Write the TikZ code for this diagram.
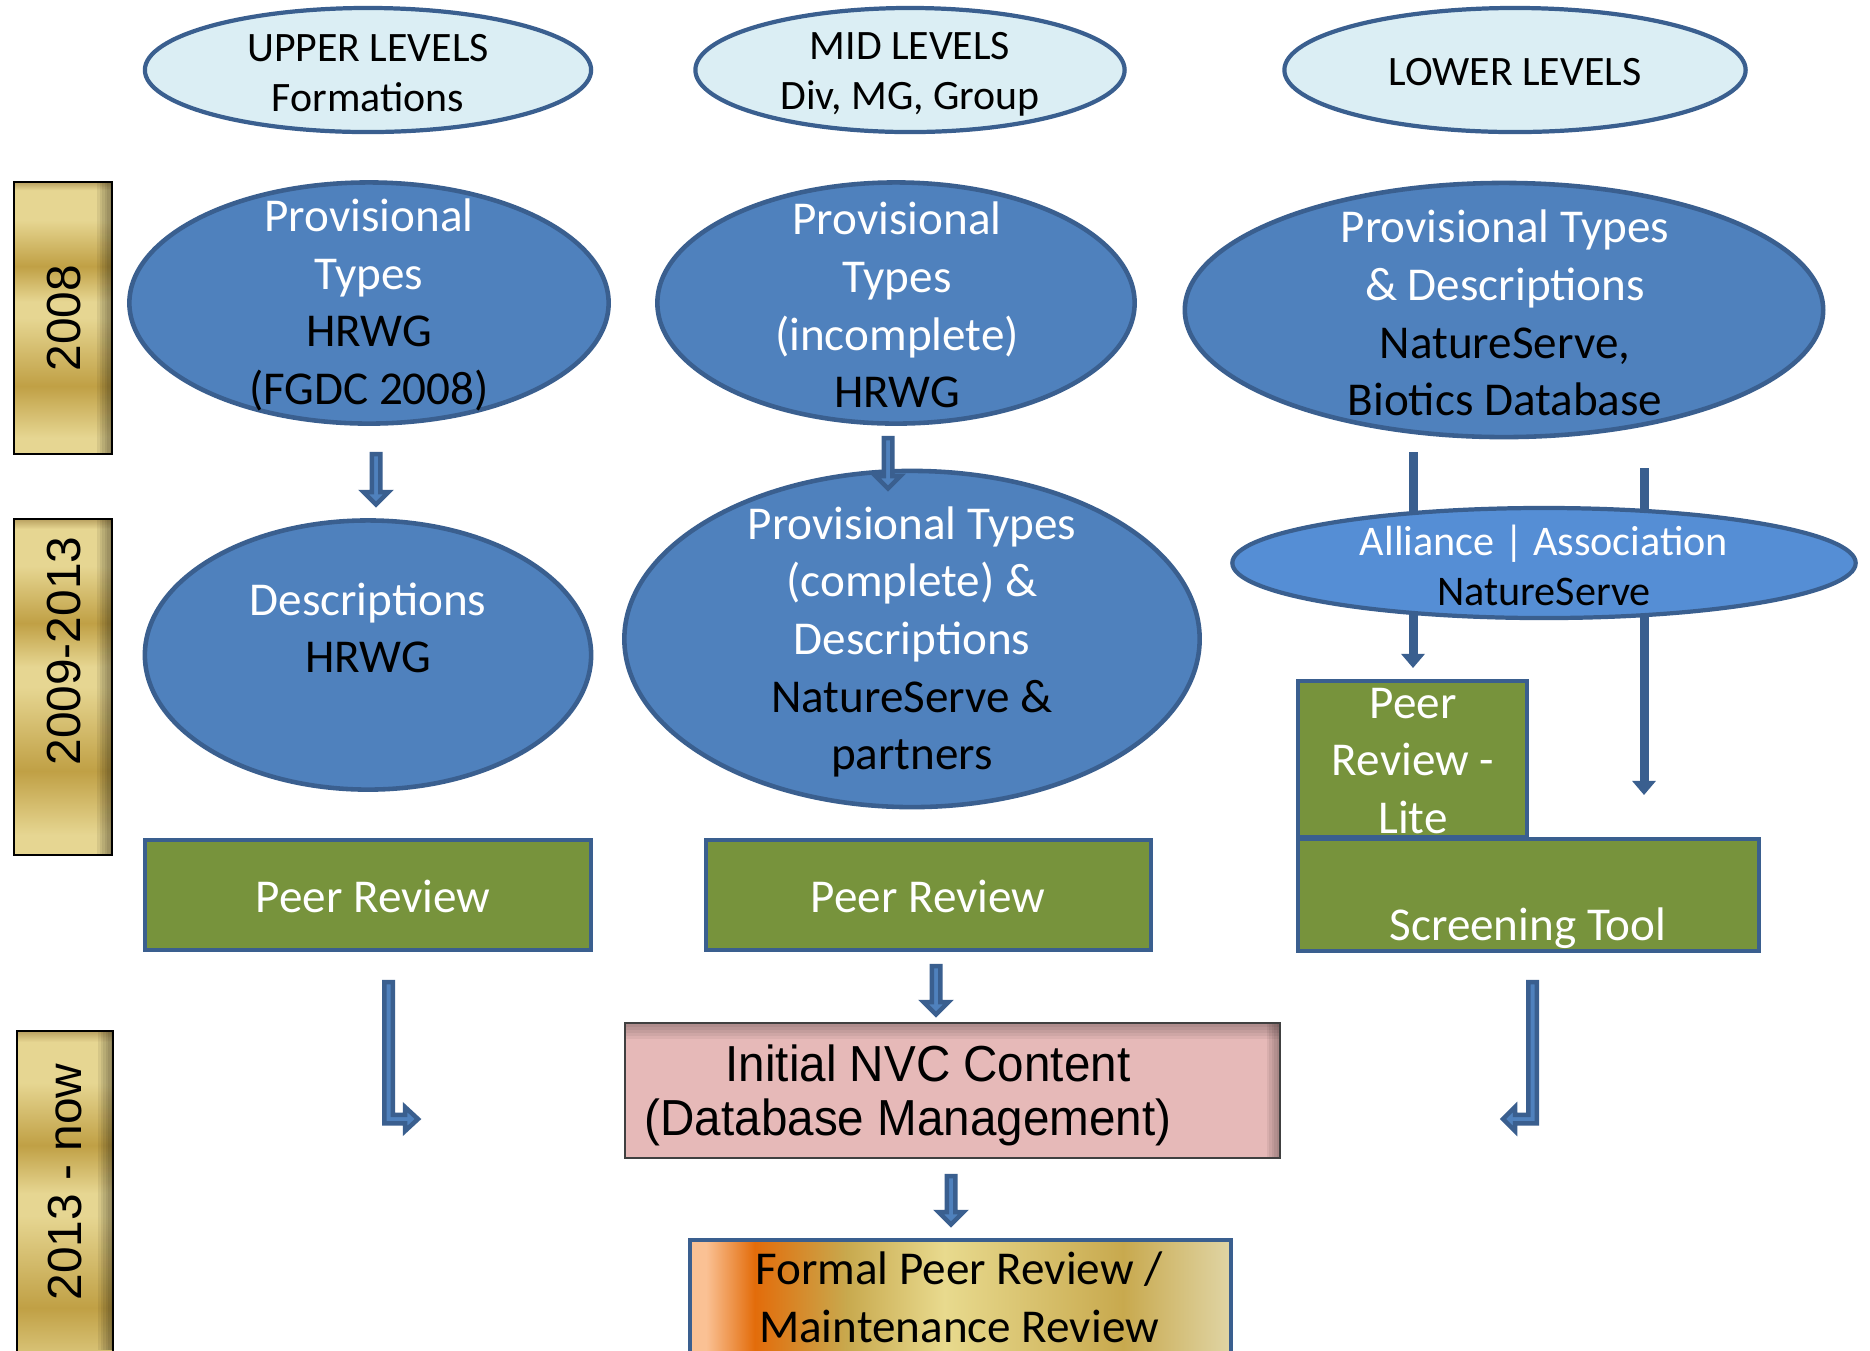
\documentclass[tikz,border=0pt]{standalone}
\usepackage{fontspec}
\setmainfont{Carlito}
\newfontfamily\arialf{Liberation Sans}
\newfontfamily\narrowf[FakeStretch=0.94]{Liberation Sans}
\usetikzlibrary{shapes.geometric,arrows.meta}

\definecolor{hdrfill}{HTML}{DBEEF4}
\definecolor{edge}{HTML}{3A5F8F}
\definecolor{bluefill}{HTML}{4F81BD}
\definecolor{ltblue}{HTML}{558ED5}
\definecolor{grn}{HTML}{77933C}
\definecolor{pinkf}{HTML}{E6B9B8}
\definecolor{gLight}{HTML}{E6D692}
\definecolor{gDark}{HTML}{C0A045}
\definecolor{gEdge}{HTML}{B8A060}
\definecolor{fA}{HTML}{FAC194}
\definecolor{fOr}{HTML}{E36C0A}
\definecolor{fGold}{HTML}{C8A94E}
\definecolor{fLt}{HTML}{E8DA8E}
\definecolor{fRt}{HTML}{E0D5A5}

\pgfdeclareverticalshading{goldbar}{100bp}{%
 color(0bp)=(gLight); color(25bp)=(gLight); color(28bp)=(gLight);
 color(37.5bp)=(gDark); color(50bp)=(gLight); color(53bp)=(gLight);
 color(59.5bp)=(gDark); color(68bp)=(gLight); color(73.5bp)=(gLight);
 color(75bp)=(gEdge); color(100bp)=(gEdge)}
\pgfdeclarehorizontalshading{formalsh}{100bp}{%
 color(0bp)=(fA); color(25bp)=(fA); color(26.5bp)=(fA);
 color(31bp)=(fOr); color(39.5bp)=(fGold); color(48.5bp)=(fLt);
 color(65bp)=(fGold); color(75bp)=(fRt); color(100bp)=(fRt)}

\newcommand\blkdown[3]{%
 \draw[blk] (#1-4.25,#2+2) -- (#1+4.25,#2+2) -- (#1+4.25,#3-15) -- (#1+12.5,#3-15)
  -- (#1,#3-2.5) -- (#1-12.5,#3-15) -- (#1-4.25,#3-15) -- cycle;}

\begin{document}
\begin{tikzpicture}[x=0.01cm,y=-0.01cm,
 hdr/.style={ellipse, draw=edge, line width=1.2pt, fill=hdrfill, inner sep=0},
 blob/.style={ellipse, draw=edge, line width=1.3pt, fill=bluefill, inner sep=0},
 greenbox/.style={rectangle, draw=edge, line width=1.2pt, fill=grn, inner sep=0},
 yearbar/.style={rectangle, draw=black, line width=0.45pt, shade, shading=goldbar, inner sep=0},
 txt/.style={align=center, inner sep=0, font=\fontsize{13.4}{16.4}\selectfont},
 smalltxt/.style={align=center, inner sep=0, font=\fontsize{12}{14.2}\selectfont},
 hdrtxt/.style={align=center, inner sep=0, font=\fontsize{11.9}{14.3}\selectfont},
 yeartxt/.style={rotate=90, inner sep=0, font=\arialf\fontsize{13.6}{16}\selectfont},
 pinktxt/.style={inner sep=0, font=\narrowf\fontsize{14.4}{16.6}\selectfont},
 blk/.style={draw=edge, fill=bluefill, line width=1.28pt, line join=miter},
 thinarr/.style={draw=edge, line width=2.56pt, -{Triangle[width=6.5pt,length=4pt]}},
]
\useasboundingbox (0,0) rectangle (1870,1350);
\clip (0,0) rectangle (1870,1350);
\fill[white] (0,0) rectangle (1870,1350);

% year bars
\node[yearbar, minimum width=0.98cm, minimum height=2.72cm] (y1) at (63,318) {};
\node[yearbar, minimum width=0.98cm, minimum height=3.36cm] (y2) at (63,687) {};
\node[yearbar, minimum width=0.96cm, minimum height=3.69cm] (y3) at (65,1215.5) {};
\foreach \k in {1,...,6}{
 \fill[black,opacity=0.07] (112-\k*2.5,183) rectangle (111.5,453.5);
 \fill[black,opacity=0.07] (112-\k*2.5,520) rectangle (111.5,854.5);
 \fill[black,opacity=0.07] (113-\k*2.5,1032) rectangle (112.5,1350);
}
\node[yeartxt] (y1t) at (64,318) {2008};
\node[yeartxt] (y2t) at (64,651) {2009-2013};
\node[yeartxt] (y3t) at (65,1182) {2013 - now};

% headers
\node[hdr, minimum width=4.46cm, minimum height=1.24cm] (h1) at (368,70) {};
\node[hdr, minimum width=4.29cm, minimum height=1.24cm] (h2) at (910,70) {};
\node[hdr, minimum width=4.61cm, minimum height=1.24cm] (h3) at (1515,70) {};
\node[hdrtxt] (h1t) at (368,73) {UPPER LEVELS\\Formations};
\node[hdrtxt] (h2t) at (910,74) {MID LEVELS\\Div, MG, Group};
\node[hdrtxt] (h3t) at (1515,72) {LOWER LEVELS};

% thin arrows from lower-level types
\coordinate (c1s) at (1413,452);
\coordinate (c1e) at (1413,668);
\coordinate (c2s) at (1644,468);
\coordinate (c2e) at (1644,795);
\draw[thinarr] (c1s) -- (c1e);
\draw[thinarr] (c2s) -- (c2e);

% blue ellipses
\node[blob, minimum width=4.79cm, minimum height=2.41cm] (A) at (369,303) {};
\node[txt] (At) at (369,305) {\textcolor{white}{Provisional}\\\textcolor{white}{Types}\\HRWG\\(FGDC 2008)};
\node[blob, minimum width=4.77cm, minimum height=2.41cm] (B) at (896,303) {};
\node[txt] (Bt) at (897,305) {\textcolor{white}{Provisional}\\\textcolor{white}{Types}\\\textcolor{white}{(incomplete)}\\HRWG};
\node[blob, minimum width=6.38cm, minimum height=2.54cm] (C) at (1504,310) {};
\node[txt] (Ct) at (1505,313) {\textcolor{white}{Provisional Types}\\\textcolor{white}{\& Descriptions}\\NatureServe,\\Biotics Database};
\node[blob, minimum width=4.46cm, minimum height=2.69cm] (D) at (368,655) {};
\node[txt] (Dt) at (368,628) {\textcolor{white}{Descriptions}\\HRWG};
\node[blob, minimum width=5.75cm, minimum height=3.36cm] (E) at (912,639) {};
\node[txt] (Et) at (912,642) {\textcolor{white}{Provisional Types}\\\textcolor{white}{(complete) \&}\\\textcolor{white}{Descriptions}\\NatureServe \&\\partners};
\node[ellipse, draw=edge, line width=1.2pt, fill=ltblue, inner sep=0, minimum width=6.23cm, minimum height=1.10cm] (F) at (1544,563) {};
\node[smalltxt] (Ft) at (1544,565) {\textcolor{white}{Alliance | Association}\\NatureServe};

% short block arrows
\blkdown{376}{452}{507}
\blkdown{888}{436}{491}

% green boxes
\node[greenbox, minimum width=4.46cm, minimum height=1.10cm] (G1) at (368,895) {};
\node[txt, text=white] (G1t) at (373,896) {Peer Review};
\node[greenbox, minimum width=4.45cm, minimum height=1.10cm] (G2) at (928.5,895) {};
\node[txt, text=white] (G2t) at (928,896) {Peer Review};
\node[greenbox, minimum width=2.29cm, minimum height=1.56cm] (G3) at (1412.5,759) {};
\node[txt, text=white] (G3t) at (1413,761) {Peer\\Review -\\Lite};
\node[greenbox, minimum width=4.61cm, minimum height=1.12cm] (G4) at (1528.5,895) {};
\node[txt, text=white] (G4t) at (1528,928) {Screening Tool};

% elbow arrows
\draw[blk] (384.25,982) -- (392.75,982) -- (392.75,1114.75) -- (405,1114.75) -- (405,1107)
  -- (418,1119) -- (405,1131) -- (405,1123.25) -- (384.25,1123.25) -- cycle;
\draw[blk] (1536.75,982) -- (1528.25,982) -- (1528.25,1114.75) -- (1515,1114.75) -- (1515,1107)
  -- (1503,1119) -- (1515,1131) -- (1515,1123.25) -- (1536.75,1123.25) -- cycle;

% pink box
\node[rectangle, draw=black!75, line width=0.5pt, fill=pinkf, inner sep=0, minimum width=6.55cm, minimum height=1.35cm] (P) at (952.5,1090.5) {};
\foreach \k in {1,...,5}{
 \fill[black,opacity=0.05] (626,1024) rectangle (1279,1024+\k*3);
 \fill[black,opacity=0.06] (1279-\k*2.5,1024) rectangle (1279,1157);
}
\node[pinktxt] (P1) at (928,1063) {Initial NVC Content};
\node[pinktxt] (P2) at (908,1122) {(Database Management)};

\blkdown{936}{964}{1017}
\blkdown{951}{1174}{1227}

% formal review box
\node[rectangle, draw=edge, line width=1.2pt, shade, shading=formalsh, inner sep=0, minimum width=5.41cm, minimum height=1.42cm] (Q) at (960.5,1311) {};
\node[txt] (Qt) at (959,1297) {Formal Peer Review /\\Maintenance Review};
\end{tikzpicture}
\end{document}
